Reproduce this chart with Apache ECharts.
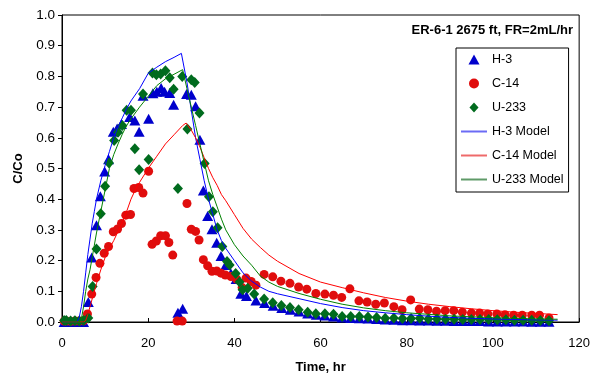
<!DOCTYPE html>
<html>
<head>
<meta charset="utf-8">
<script src="https://cdn.jsdelivr.net/npm/echarts@6/dist/echarts.min.js"></script>
<style>
  html, body { margin: 0; padding: 0; background: #ffffff; }
  #chart { width: 593px; height: 379px; }
</style>
</head>
<body>
<div id="chart"></div>
<script>
// Breakthrough data, ER-6-1 2675 ft core, flow rate 2 mL/hr
const h3Time = [0.5,1,2,3,4,5,6.1,6.9,8.0,8.9,9.9,10.8,11.9,12.8,13.8,15.7,16.9,17.9,18.8,20.1,21.1,22.0,23.0,23.8,25.0,25.9,26.9,28.0,28.9,30.0,31.0,32.0,32.8,33.8,34.8,35.9,36.9,38.0,39.2,40.4,41.5,42.8,45.0,47.0,49.0,51.0,53.0,55.0,57.0,59.0,61.0,63,65,67,69,71,73,75,77,79,81,83,85,87,89,91,93,95,97,99,101,103,105,107,109,111,113];
const h3Conc = [0,0,0,0,0,0,0.065,0.21,0.315,0.41,0.49,0.53,0.62,0.63,0.645,0.668,0.656,0.62,0.737,0.662,0.745,0.75,0.762,0.75,0.746,0.708,0.03,0.043,0.743,0.74,0.703,0.594,0.428,0.345,0.302,0.258,0.215,0.186,0.158,0.14,0.092,0.085,0.07,0.062,0.053,0.046,0.04,0.034,0.028,0.024,0.021,0.018,0.015,0.013,0.012,0.011,0.01,0.008,0.007,0.006,0.006,0.005,0.005,0.004,0.004,0.003,0.003,0.003,0.003,0.002,0.002,0.002,0.002,0.002,0.001,0.001,0.001];

const c14Time = [0.5,1,2,3,4,5,5.9,6.9,7.9,8.8,9.8,10.8,11.9,12.9,13.8,14.8,15.9,16.7,17.8,18.8,20.1,20.9,21.9,22.9,24.0,24.8,25.7,26.7,27.9,29.0,30.0,31.0,31.8,32.8,33.8,34.8,35.9,36.9,37.9,39.2,40.5,41.8,42.7,43.9,45.0,46.9,48.9,50.8,52.9,54.9,56.8,58.9,61.0,63.0,64.9,66.8,68.9,70.8,72.8,74.8,77.0,78.9,80.9,82.9,84.9,86.9,88.9,90.9,92.9,95.0,96.9,98.8,100.9,102.8,104.8,106.8,109.0,110.8,113.0];
const c14Conc = [0.003,0.003,0.002,0.003,0.003,0.004,0.026,0.091,0.145,0.191,0.224,0.246,0.294,0.303,0.321,0.348,0.35,0.435,0.438,0.42,0.491,0.253,0.264,0.281,0.281,0.259,0.218,0.003,0.003,0.386,0.302,0.295,0.267,0.203,0.183,0.165,0.166,0.159,0.153,0.148,0.14,0.112,0.143,0.132,0.12,0.155,0.147,0.133,0.126,0.114,0.107,0.093,0.091,0.087,0.08,0.108,0.069,0.065,0.058,0.062,0.05,0.04,0.072,0.042,0.04,0.035,0.037,0.037,0.032,0.029,0.029,0.026,0.026,0.024,0.022,0.022,0.022,0.022,0.013];

const u233Time = [0.5,1,2,3,4,5,6.1,7.1,8.0,9.0,10.0,10.9,12.1,13.0,14.0,15.0,16.0,16.9,17.9,18.8,20.1,21.0,21.9,22.9,24.0,25.0,25.9,26.9,27.9,29.1,30.0,30.8,31.9,33.1,34.1,35.0,36.1,37.2,38.3,38.9,40.3,41.2,41.9,43.1,44.6,46.9,48.9,50.9,52.9,54.9,57.0,58.9,61.0,63.0,65.0,67.0,69.0,71.0,73.0,75,77,79,81,83,85,87,89,91,93,95,97,99,101,103,105,107,109,111,113];
const u233Conc = [0.005,0.005,0.003,0.004,0.003,0.005,0.013,0.116,0.238,0.353,0.442,0.518,0.591,0.618,0.64,0.69,0.69,0.564,0.496,0.743,0.529,0.811,0.805,0.808,0.818,0.796,0.758,0.435,0.80,0.629,0.789,0.78,0.681,0.516,0.408,0.359,0.307,0.246,0.197,0.186,0.158,0.13,0.105,0.11,0.091,0.075,0.063,0.054,0.047,0.04,0.032,0.027,0.027,0.025,0.018,0.018,0.018,0.016,0.015,0.012,0.013,0.011,0.011,0.012,0.01,0.01,0.009,0.009,0.008,0.008,0.008,0.008,0.007,0.007,0.006,0.006,0.006,0.005,0.004];

// Model curves
const h3ModelTime = [0,1,2,3,3.5,4,4.5,5,5.5,6,6.5,7,7.5,8,9,10,11,12,13,14,15,16,18,20,22,24,26,27.7,29,30,31,32,33,34,35,36,37,38,40,42,44,46,48,50,55,60,65,70,75,80,85,90,95,100,105,110,115];
const h3ModelConc = [0,0,0,0,0,0.015,0.05,0.1,0.16,0.22,0.27,0.32,0.36,0.4,0.46,0.51,0.555,0.6,0.635,0.665,0.695,0.72,0.76,0.81,0.83,0.848,0.862,0.875,0.78,0.69,0.6,0.53,0.46,0.4,0.35,0.3,0.265,0.24,0.2,0.16,0.133,0.114,0.1,0.092,0.076,0.06,0.047,0.037,0.03,0.024,0.019,0.015,0.012,0.01,0.008,0.007,0.006];

const c14ModelTime = [0,1,2,3,4,5,5.5,6,6.5,7,8,9,10,11,12,13,14,15,16,17,18,20,22,24,26,28,28.8,30,31,32,33,34,35,36,37,38,40,42,44,46,48,50,55,60,65,70,75,80,85,90,95,100,105,110,115];
const c14ModelConc = [0,0,0,0,0,0,0.005,0.025,0.05,0.075,0.125,0.17,0.21,0.24,0.265,0.295,0.325,0.36,0.4,0.43,0.455,0.5,0.54,0.58,0.61,0.64,0.648,0.625,0.6,0.57,0.535,0.5,0.47,0.445,0.415,0.395,0.35,0.305,0.27,0.243,0.218,0.198,0.158,0.13,0.112,0.095,0.08,0.068,0.058,0.05,0.043,0.037,0.032,0.028,0.024];

const u233ModelTime = [0,1,2,3,4,4.5,5,5.5,6,6.5,7,7.5,8,9,10,11,12,13,14,15,16,18,20,22,24,26,28,29,30,31,32,33,34,35,36,37,38,40,42,44,46,48,50,55,60,65,70,75,80,85,90,95,100,105,110,115];
const u233ModelConc = [0,0,0,0,0,0.01,0.05,0.1,0.14,0.17,0.21,0.25,0.29,0.36,0.43,0.5,0.545,0.58,0.612,0.64,0.662,0.7,0.735,0.77,0.792,0.807,0.822,0.76,0.7,0.64,0.58,0.52,0.46,0.415,0.375,0.335,0.3,0.252,0.215,0.185,0.15,0.13,0.116,0.093,0.074,0.058,0.046,0.037,0.03,0.025,0.02,0.017,0.014,0.012,0.01,0.009];

const xTicks = [0, 20, 40, 60, 80, 100, 120];
const yTicks = [0.0, 0.1, 0.2, 0.3, 0.4, 0.5, 0.6, 0.7, 0.8, 0.9, 1.0];

const chartTitle = 'ER-6-1 2675 ft, FR=2mL/hr';
const xName = 'Time, hr';
const yName = 'C/Co';

function pairs(t, v) { return t.map((x, i) => [x, v[i]]); }

const FONT = '"Liberation Sans", Arial, sans-serif';

// Legend keys drawn as paths so they keep their own proportions
const TRI_KEY = 'path://M0,10L5.5,0L11,10Z';
const DIAMOND_KEY = 'path://M5,0L10,5.5L5,11L0,5.5Z';
const LINE_KEY = 'path://M0,0H26V2H0Z';

const COLORS = {
  h3: '#0000cc', c14: '#e00d0d', u233: '#006b1e',
  h3Line: '#0000ff', c14Line: '#ff0000', u233Line: '#008000',
  h3Key: '#6b6bf5', c14Key: '#ee6a6a', u233Key: '#5f9a68'
};

const chart = echarts.init(document.getElementById('chart'), null, { renderer: 'canvas' });

chart.setOption({
  animation: false,
  backgroundColor: '#ffffff',
  textStyle: { fontFamily: FONT, color: '#000' },
  title: {
    text: chartTitle,
    right: 20,
    top: 24,
    padding: 0,
    textStyle: { fontFamily: FONT, fontSize: 13, fontWeight: 'bold', color: '#000' }
  },
  grid: {
    left: 62, right: 11, top: 15, bottom: 55,
    show: true, borderColor: '#000', borderWidth: 1, backgroundColor: 'transparent'
  },
  legend: {
    orient: 'vertical',
    left: 456,
    top: 48,
    padding: [5, 5, 6, 5],
    itemWidth: 26,
    itemHeight: 10,
    itemGap: 11,
    symbolKeepAspect: true,
    borderColor: '#000',
    borderWidth: 1,
    backgroundColor: '#fff',
    textStyle: { fontFamily: FONT, fontSize: 12.5, color: '#000' },
    data: [
      { name: 'H-3', icon: TRI_KEY, itemStyle: { color: COLORS.h3 } },
      { name: 'C-14', icon: 'circle', itemStyle: { color: COLORS.c14 } },
      { name: 'U-233', icon: DIAMOND_KEY, itemStyle: { color: COLORS.u233 } },
      { name: 'H-3 Model', icon: LINE_KEY, itemStyle: { color: COLORS.h3Key } },
      { name: 'C-14 Model', icon: LINE_KEY, itemStyle: { color: COLORS.c14Key } },
      { name: 'U-233 Model', icon: LINE_KEY, itemStyle: { color: COLORS.u233Key } }
    ]
  },
  xAxis: {
    type: 'value',
    min: xTicks[0],
    max: xTicks[xTicks.length - 1],
    interval: 20,
    name: xName,
    nameLocation: 'middle',
    nameGap: 39,
    nameTextStyle: { fontFamily: FONT, fontSize: 13, fontWeight: 'bold', color: '#000' },
    axisLine: { lineStyle: { color: '#000', width: 1 } },
    axisTick: { inside: true, length: 4, lineStyle: { color: '#000' } },
    axisLabel: { margin: 15, fontFamily: FONT, fontSize: 13, color: '#000' },
    splitLine: { show: false }
  },
  yAxis: {
    type: 'value',
    min: yTicks[0],
    max: yTicks[yTicks.length - 1],
    interval: 0.1,
    name: yName,
    nameLocation: 'middle',
    nameGap: 37,
    nameRotate: 90,
    nameTextStyle: { fontFamily: FONT, fontSize: 13, fontWeight: 'bold', color: '#000' },
    axisLine: { lineStyle: { color: '#000', width: 1 } },
    axisTick: { inside: false, length: 4, lineStyle: { color: '#000' } },
    axisLabel: { margin: 7, fontFamily: FONT, fontSize: 13.5, color: '#000', formatter: v => v.toFixed(1) },
    splitLine: { show: false }
  },
  series: [
    {
      name: 'H-3', type: 'scatter', symbol: 'triangle', symbolSize: [11, 10],
      itemStyle: { color: COLORS.h3, opacity: 1 },
      data: pairs(h3Time, h3Conc)
    },
    {
      name: 'C-14', type: 'scatter', symbol: 'circle', symbolSize: 9,
      itemStyle: { color: COLORS.c14, opacity: 1 },
      data: pairs(c14Time, c14Conc)
    },
    {
      name: 'U-233', type: 'scatter', symbol: 'diamond', symbolSize: [10, 11],
      itemStyle: { color: COLORS.u233, opacity: 1 },
      data: pairs(u233Time, u233Conc)
    },
    {
      name: 'H-3 Model', type: 'line', symbol: 'none', smooth: false,
      lineStyle: { color: COLORS.h3Line, width: 1 }, itemStyle: { color: COLORS.h3Line },
      data: pairs(h3ModelTime, h3ModelConc)
    },
    {
      name: 'C-14 Model', type: 'line', symbol: 'none', smooth: false,
      lineStyle: { color: COLORS.c14Line, width: 1 }, itemStyle: { color: COLORS.c14Line },
      data: pairs(c14ModelTime, c14ModelConc)
    },
    {
      name: 'U-233 Model', type: 'line', symbol: 'none', smooth: false,
      lineStyle: { color: COLORS.u233Line, width: 1 }, itemStyle: { color: COLORS.u233Line },
      data: pairs(u233ModelTime, u233ModelConc)
    }
  ]
});
</script>
</body>
</html>
